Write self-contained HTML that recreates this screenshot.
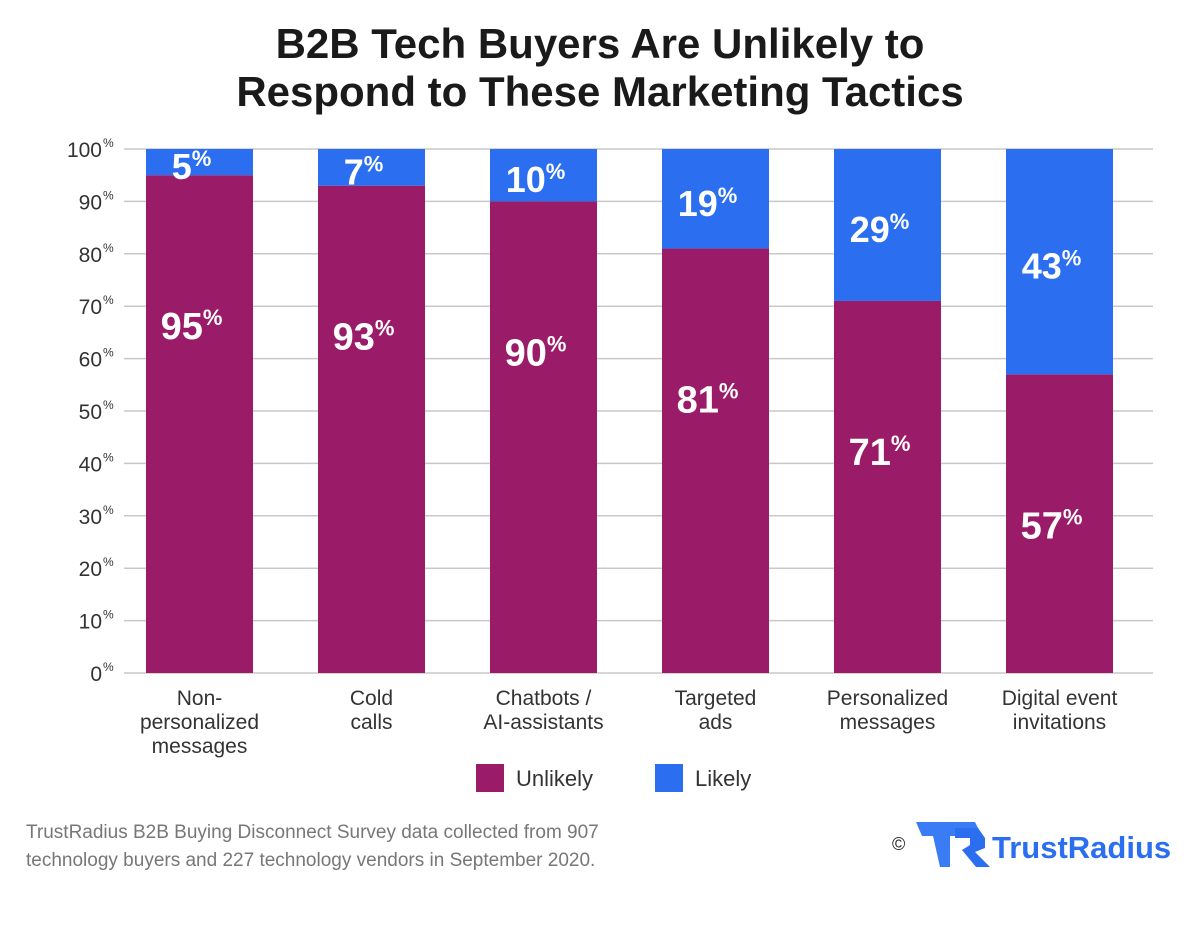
<!DOCTYPE html>
<html><head><meta charset="utf-8"><style>
body{margin:0;background:#fff;width:1200px;height:936px;overflow:hidden;font-family:"Liberation Sans",sans-serif}
</style></head><body>
<svg width="1200" height="936">
<text x="600" y="58" text-anchor="middle" font-size="42" font-weight="bold" fill="#1a1a1a">B2B Tech Buyers Are Unlikely to</text>
<text x="600" y="106" text-anchor="middle" font-size="42" font-weight="bold" fill="#1a1a1a">Respond to These Marketing Tactics</text>
<g id="grid"></g><g id="bars"></g><g id="xl"></g>
<rect x="476" y="764" width="28" height="28" fill="#9a1b68"/>
<text x="516" y="786" font-size="22" fill="#333">Unlikely</text>
<rect x="655" y="764" width="28" height="28" fill="#2b6ff0"/>
<text x="695" y="786" font-size="22" fill="#333">Likely</text>
<text x="26" y="838" font-size="19" fill="#777">TrustRadius B2B Buying Disconnect Survey data collected from 907</text>
<text x="26" y="866" font-size="19" fill="#777">technology buyers and 227 technology vendors in September 2020.</text>
<g>
<text x="892" y="850" font-size="18" fill="#222">©</text>
<polygon points="916,822 975,822 982,836 950,836 950,867 940,867 933,836 922,836" fill="#3a7cf5"/>
<polygon points="955,828 978,828 985,838 985,848 975,852 990,867 976,867 962,850 970,845 970,838 955,838" fill="#2b6ff0"/>
<text x="992" y="858" font-size="31" font-weight="bold" fill="#2b6ff0">TrustRadius</text>
</g>
</svg>
<script>
const categories=[["Non-","personalized","messages"],["Cold","calls"],["Chatbots /","AI-assistants"],["Targeted","ads"],["Personalized","messages"],["Digital event","invitations"]];
const unlikely=[95,93,90,81,71,57];
const likely=[5,7,10,19,29,43];
const ticks=[0,10,20,30,40,50,60,70,80,90,100];
const NS="http://www.w3.org/2000/svg";
const y=v=>673-v*5.24, x=i=>146+i*172.0, bw=107;
function mk(t,a,p,txt){const e=document.createElementNS(NS,t);for(const k in a)e.setAttribute(k,a[k]);if(txt!=null)e.textContent=txt;p.appendChild(e);return e;}
const G=document.getElementById('grid'),B=document.getElementById('bars'),X=document.getElementById('xl');
ticks.forEach(t=>{
 const l=mk('line',{x1:124,x2:1153,y1:y(t),y2:y(t),stroke:'#c8c8c8','stroke-width':1.5},G);
 
 
 const tx=mk('text',{x:102,y:y(t)+8,'text-anchor':'end','font-size':21,fill:'#333'},G,t);
 
 
 const s=mk('text',{x:103,y:y(t)-2,'font-size':12,fill:'#333'},G,'%');
 
 
});
unlikely.forEach((u,i)=>{
 const lk=likely[i],cx=x(i)+bw/2;
 const r1=mk('rect',{x:x(i),y:y(u),width:bw,height:y(0)-y(u),fill:'#9a1b68'},B);
 
 
 const r2=mk('rect',{x:x(i),y:y(u+lk),width:bw,height:y(u)-y(u+lk),fill:'#2b6ff0'},B);
 
 
 const t1=mk('text',{x:cx-8,y:y(u)+164,'text-anchor':'middle','font-size':38,'font-weight':'bold',fill:'#fff'},B,u);
 
 
 mk('tspan',{'font-size':22,dy:-14},t1,'%');
 const my=(y(u)+y(u+lk))/2;
 const t2=mk('text',{x:cx-8,y:my+17,'text-anchor':'middle','font-size':36,'font-weight':'bold',fill:'#fff'},B,lk);
 
 
 mk('tspan',{'font-size':22,dy:-13},t2,'%');
 categories[i].forEach((c,j)=>{
  const t=mk('text',{x:cx,y:705+j*24,'text-anchor':'middle','font-size':21,fill:'#333'},X,c);
  
  
 });
});
</script>
</body></html>
